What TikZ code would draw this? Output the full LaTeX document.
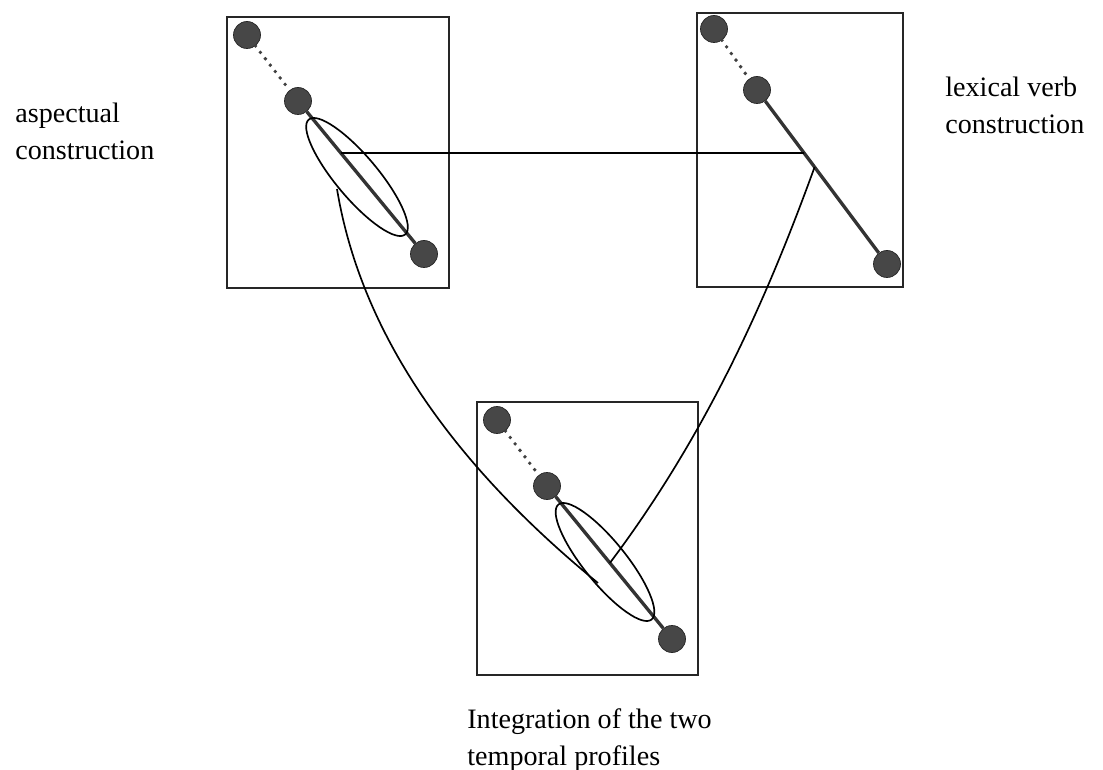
\documentclass[tikz,border=0pt]{standalone}
\usepackage{fontspec}
\setmainfont{Liberation Serif}
\usetikzlibrary{calc}

\tikzset{
  event/.style={circle,draw=black!85,fill=black!72,inner sep=0pt,minimum size=0.54cm},
  frame/.style={draw=black!85,line width=1pt},
  profile/.style={line width=1.9pt,draw=black!80},
  phase/.style={line width=2.2pt,draw=black!75,line cap=round,dash pattern=on 0pt off 4.6pt},
  link/.style={line width=0.95pt},
  caption/.style={align=left,anchor=west,inner sep=0pt,font=\fontsize{16}{21}\selectfont}
}

\begin{document}
\begin{tikzpicture}[x=0.02cm,y=-0.02cm]
  \useasboundingbox (0,0) rectangle (1103,770);

  % the three frames
  \draw[frame] (227,17) rectangle (449,288);
  \draw[frame] (697,13) rectangle (903,287);
  \draw[frame] (477,402) rectangle (698,675);

  % aspectual construction
  \node[event] (a1) at (247,35) {};
  \node[event] (a2) at (298,101) {};
  \node[event] (a3) at (424,254) {};
  \draw[phase] (a1)--(a2);
  \draw[profile] (a2)--(a3);
  \draw[link] (357,177) ellipse [x radius=75,y radius=21,rotate=-50];

  % lexical verb construction
  \node[event] (l1) at (714,29) {};
  \node[event] (l2) at (757,90) {};
  \node[event] (l3) at (887,264) {};
  \draw[phase] (l1)--(l2);
  \draw[profile] (l2)--(l3);

  % integration
  \node[event] (i1) at (497,420) {};
  \node[event] (i2) at (547,486) {};
  \node[event] (i3) at (672,639) {};
  \draw[phase] (i1)--(i2);
  \draw[profile] (i2)--(i3);
  \draw[link] (605,562) ellipse [x radius=74,y radius=21,rotate=-51];

  % correspondences
  \coordinate (ah) at ($(a2)!0.34!(a3)$);
  \coordinate (lh) at ($(l2)!0.362!(l3)$);
  \coordinate (ac) at (337,189);
  \coordinate (ic) at (598,583);
  \coordinate (lc) at ($(l2)!0.443!(l3)$);
  \coordinate (il) at ($(i2)!0.503!(i3)$);
  \draw[link] (ah)--(lh);
  \draw[link] (ac) .. controls (362,340) and (460,470) .. (ic);
  \draw[link] (lc) .. controls (770,290) and (710,430) .. (il);

  % labels
  \node[caption] (asp) at (15,131) {aspectual\\construction};
  \node[caption] (lex) at (945,105) {lexical verb\\construction};
  \node[caption] (int) at (467,740) {Integration of the two\\temporal profiles};
\end{tikzpicture}
\end{document}
